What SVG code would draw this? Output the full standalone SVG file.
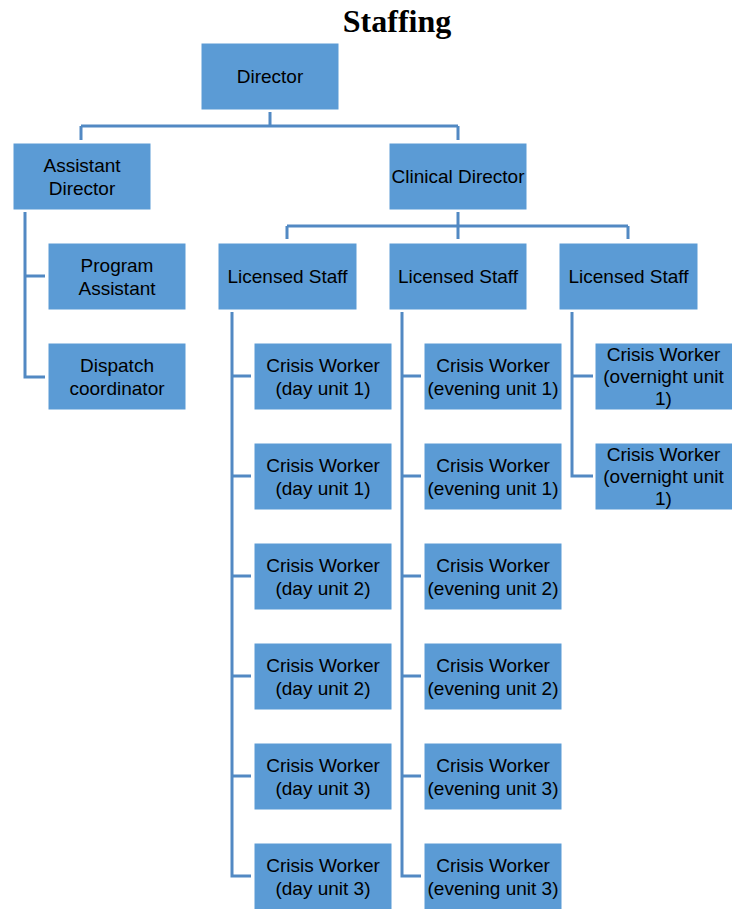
<svg xmlns="http://www.w3.org/2000/svg" width="732" height="909" viewBox="0 0 732 909">
<style>
.b{fill:#5B9BD5;stroke:#ffffff;stroke-width:1}
.t{font-family:"Liberation Sans",Arial,sans-serif;font-size:19px;fill:#000;text-anchor:middle}
.c{fill:none;stroke:#5289C3;stroke-width:3}
.title{font-family:"Liberation Serif","Times New Roman",serif;font-size:32px;font-weight:bold;text-anchor:middle}
</style>
<rect width="732" height="909" fill="#fff"/>
<text class="title" x="397" y="32">Staffing</text>
<g id="connectors">
<path class="c" d="M270 112V126M81 126H458M81 126V140M458 126V140"/>
<path class="c" d="M25 212V377H45M25 276H45"/>
<path class="c" d="M458 212V239M287 226H628M287 226V239M628 226V239"/>
<path class="c" d="M232 312V876H251M232 376H251M232 476H251M232 576H251M232 676H251M232 776H251"/>
<path class="c" d="M402 312V876H421M402 376H421M402 476H421M402 576H421M402 676H421M402 776H421"/>
<path class="c" d="M572 312V476H593M572 376H593"/>
</g>
<g id="director"><rect class="b" x="201" y="43" width="138" height="67"/><text class="t" x="270" y="83">Director</text></g>
<g id="assistant-director"><rect class="b" x="13" y="143" width="138" height="67"/><text class="t" x="82" y="171.5">Assistant</text><text class="t" x="82" y="194.5">Director</text></g>
<g id="clinical-director"><rect class="b" x="389" y="143" width="138" height="67"/><text class="t" x="458" y="183">Clinical Director</text></g>
<g id="program-assistant"><rect class="b" x="48" y="243" width="138" height="67"/><text class="t" x="117" y="271.5">Program</text><text class="t" x="117" y="294.5">Assistant</text></g>
<g id="dispatch"><rect class="b" x="48" y="343" width="138" height="67"/><text class="t" x="117" y="371.5">Dispatch</text><text class="t" x="117" y="394.5">coordinator</text></g>
<g id="licensed-1"><rect class="b" x="218" y="243" width="139" height="67"/><text class="t" x="287.5" y="283">Licensed Staff</text></g>
<g id="licensed-2"><rect class="b" x="389" y="243" width="138" height="67"/><text class="t" x="458" y="283">Licensed Staff</text></g>
<g id="licensed-3"><rect class="b" x="559" y="243" width="139" height="67"/><text class="t" x="628.5" y="283">Licensed Staff</text></g>
<g id="day-1a"><rect class="b" x="254" y="343" width="138" height="67"/><text class="t" x="323" y="371.5">Crisis Worker</text><text class="t" x="323" y="394.5">(day unit 1)</text></g>
<g id="day-1b"><rect class="b" x="254" y="443" width="138" height="67"/><text class="t" x="323" y="471.5">Crisis Worker</text><text class="t" x="323" y="494.5">(day unit 1)</text></g>
<g id="day-2a"><rect class="b" x="254" y="543" width="138" height="67"/><text class="t" x="323" y="571.5">Crisis Worker</text><text class="t" x="323" y="594.5">(day unit 2)</text></g>
<g id="day-2b"><rect class="b" x="254" y="643" width="138" height="67"/><text class="t" x="323" y="671.5">Crisis Worker</text><text class="t" x="323" y="694.5">(day unit 2)</text></g>
<g id="day-3a"><rect class="b" x="254" y="743" width="138" height="67"/><text class="t" x="323" y="771.5">Crisis Worker</text><text class="t" x="323" y="794.5">(day unit 3)</text></g>
<g id="day-3b"><rect class="b" x="254" y="843" width="138" height="67"/><text class="t" x="323" y="871.5">Crisis Worker</text><text class="t" x="323" y="894.5">(day unit 3)</text></g>
<g id="eve-1a"><rect class="b" x="424" y="343" width="138" height="67"/><text class="t" x="493" y="371.5">Crisis Worker</text><text class="t" x="493" y="394.5">(evening unit 1)</text></g>
<g id="eve-1b"><rect class="b" x="424" y="443" width="138" height="67"/><text class="t" x="493" y="471.5">Crisis Worker</text><text class="t" x="493" y="494.5">(evening unit 1)</text></g>
<g id="eve-2a"><rect class="b" x="424" y="543" width="138" height="67"/><text class="t" x="493" y="571.5">Crisis Worker</text><text class="t" x="493" y="594.5">(evening unit 2)</text></g>
<g id="eve-2b"><rect class="b" x="424" y="643" width="138" height="67"/><text class="t" x="493" y="671.5">Crisis Worker</text><text class="t" x="493" y="694.5">(evening unit 2)</text></g>
<g id="eve-3a"><rect class="b" x="424" y="743" width="138" height="67"/><text class="t" x="493" y="771.5">Crisis Worker</text><text class="t" x="493" y="794.5">(evening unit 3)</text></g>
<g id="eve-3b"><rect class="b" x="424" y="843" width="138" height="67"/><text class="t" x="493" y="871.5">Crisis Worker</text><text class="t" x="493" y="894.5">(evening unit 3)</text></g>
<g id="night-1a"><rect class="b" x="595" y="343" width="138" height="67"/><text class="t" x="663.5" y="361">Crisis Worker</text><text class="t" x="663.5" y="383">(overnight unit</text><text class="t" x="663.5" y="405">1)</text></g>
<g id="night-1b"><rect class="b" x="595" y="443" width="138" height="67"/><text class="t" x="663.5" y="461">Crisis Worker</text><text class="t" x="663.5" y="483">(overnight unit</text><text class="t" x="663.5" y="505">1)</text></g>
</svg>
